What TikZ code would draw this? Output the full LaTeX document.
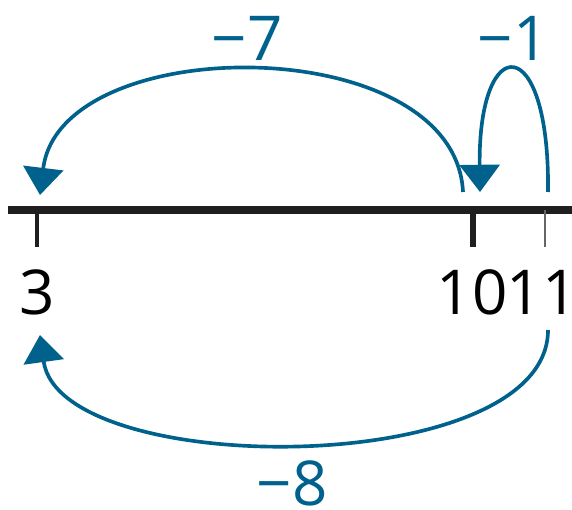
\documentclass[tikz,border=0pt]{standalone}
\usepackage{fontspec}
\setmainfont{Open Sans}
\usetikzlibrary{arrows.meta}
\definecolor{jumpblue}{RGB}{0,98,140}

\begin{document}
\begin{tikzpicture}[
    x=0.025cm, y=-0.025cm,
    font=\fontsize{44}{48}\selectfont,
    axis/.style={draw=black!88, line width=5pt},
    tickmark/.style={draw=black!88, line width=3pt},
    num/.style={text=black, inner sep=0pt},
    jlbl/.style={text=jumpblue, inner sep=0pt},
    jump/.style={draw=jumpblue, line width=2.6pt, -{Triangle[length=0.68cm, width=1cm]}}
]
\useasboundingbox (0,0) rectangle (572,510);

% number line
\coordinate (L) at (8,210);
\coordinate (R) at (572,210);
\draw[axis] (L) -- (R);

% ticks
\coordinate (T3) at (37,210);
\coordinate (T10) at (473,210);
\coordinate (T11) at (545,210);
\draw[tickmark] (T3) -- ++(0,37);
\draw[tickmark, line width=4.2pt] (T10) -- ++(0,37);
\draw[tickmark, draw=black!60, line width=2pt] (T11) -- ++(0,37);

\node[num] (N3) at (37,292) {3};
\node[num] (N10) at (472,292) {10};
\node[num] (N11) at (542,292) {11};

% jumps above the line
\coordinate (A11) at (548,192);
\coordinate (A10) at (480,192);
\coordinate (A10s) at (463,192);
\coordinate (A3) at (40,195);
\draw[jump] (A11) .. controls (550,30) and (478,30) .. (A10);
\draw[jump] (A10s) .. controls (455,30) and (60,30) .. (A3);
\node[jlbl] (M1) at (513,38) {−1};
\node[jlbl] (M7) at (247,38) {−7};

% jump below the line
\coordinate (B11) at (548,330);
\coordinate (B3) at (40,335);
\draw[jump] (B11) .. controls (548,480) and (60,480) .. (B3);
\node[jlbl] (M8) at (292,483) {−8};

\end{tikzpicture}
\end{document}
